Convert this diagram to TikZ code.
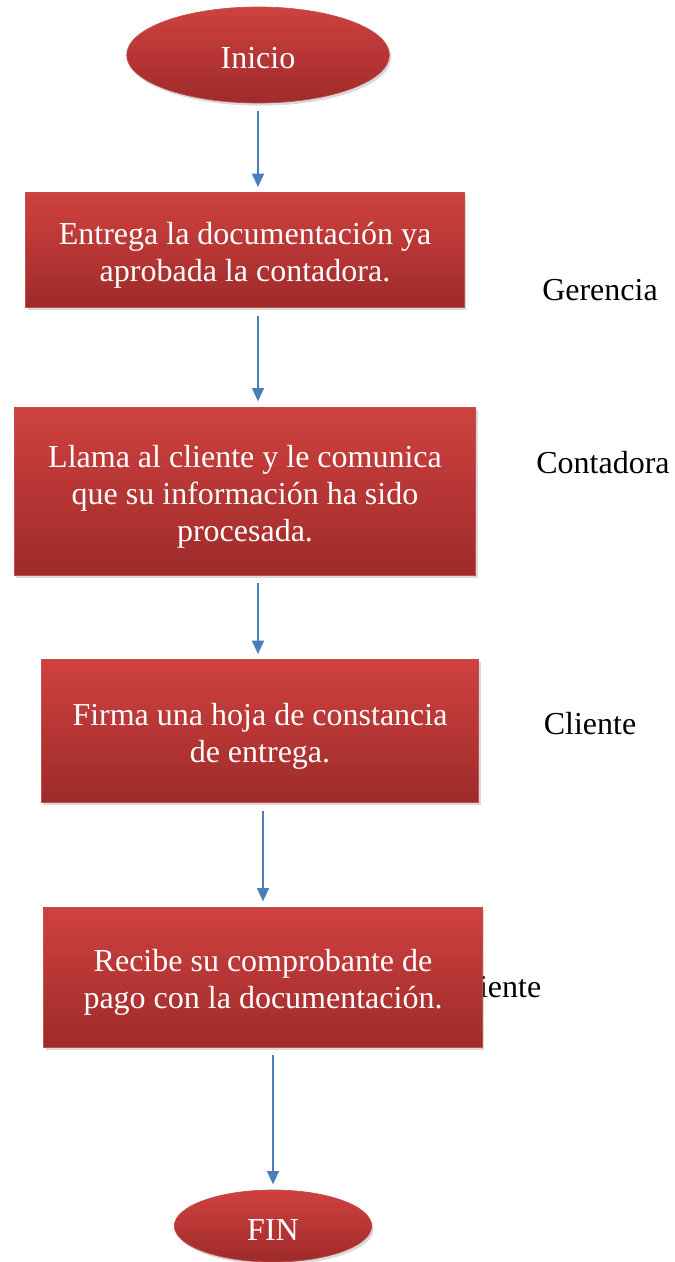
\documentclass[tikz,border=0pt]{standalone}
\usepackage{fontspec}
\setmainfont{Liberation Serif}
\usetikzlibrary{arrows.meta,positioning,calc,shapes.geometric,shadows}
\definecolor{rojoA}{HTML}{CF413F}
\definecolor{rojoB}{HTML}{9E2B2A}
\definecolor{rojoC}{HTML}{C0504D}
\definecolor{azulF}{HTML}{4A7EBB}
\newcommand{\alto}[1]{\rule{0pt}{#1}}

\begin{document}
\begin{tikzpicture}[x=0.75pt,y=-0.75pt,
  every node/.style={font=\fontsize{24pt}{27.7pt}\selectfont},
  caja/.style={draw=rojoC,line width=0.5pt,top color=rojoA,bottom color=rojoB,
    text=white,align=center,inner sep=0pt,
    drop shadow={shadow xshift=1.5pt,shadow yshift=-2pt,opacity=0.3}},
  elipse/.style={caja,ellipse},
  flecha/.style={azulF,line width=1.1pt,-{Triangle[width=9pt,length=10pt]},
    shorten <=6pt,shorten >=4pt}]
  \useasboundingbox (0,0) rectangle (674,1262);
  \node[elipse,minimum width=197pt,minimum height=72pt] (inicio) at (258,55) {\alto{21pt}Inicio};
  \node[caja,minimum width=329pt,minimum height=86pt] (entrega) at (245,250)
    {\alto{25pt}Entrega la documentación ya\\aprobada la contadora.};
  \node[caja,minimum width=346pt,minimum height=126pt] (llama) at (245,491)
    {\alto{25pt}Llama al cliente y le comunica\\que su información ha sido\\procesada.};
  \node[caja,minimum width=328pt,minimum height=107pt] (firma) at (260,731)
    {\alto{25pt}Firma una hoja de constancia\\de entrega.};
  \node (cliente2) at (495,987) {Cliente};
  \node[caja,minimum width=329pt,minimum height=105pt] (recibe) at (263,977)
    {\alto{25pt}Recibe su comprobante de\\pago con la documentación.};
  \node[elipse,minimum width=148pt,minimum height=54pt] (fin) at (273,1226) {\alto{21pt}FIN};
  \node (gerencia) at (600,290) {Gerencia};
  \node (contadora) at (603,463) {Contadora};
  \node (cliente) at (590,724) {Cliente};
  \draw[flecha] (inicio) -- (inicio |- entrega.north);
  \draw[flecha] (entrega.south -| inicio) -- (llama.north -| inicio);
  \draw[flecha] (llama.south -| inicio) -- (firma.north -| inicio);
  \draw[flecha] (firma.south -| recibe) -- (recibe.north);
  \draw[flecha] (recibe.south -| fin) -- (fin.north);
\end{tikzpicture}
\end{document}
